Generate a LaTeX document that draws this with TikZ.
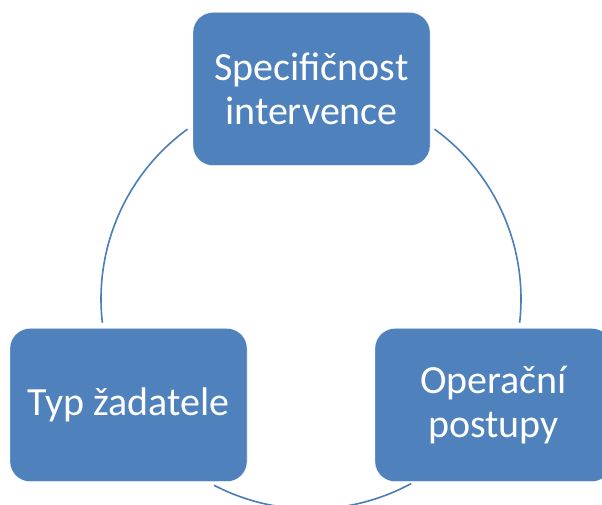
\documentclass[tikz,border=0pt]{standalone}
\usepackage{fontspec}
\setmainfont{Carlito}
\usepackage{xcolor}
\usetikzlibrary{positioning}
\definecolor{boxblue}{RGB}{79,129,189}
\definecolor{arcblue}{RGB}{74,126,187}

\begin{document}
\begin{tikzpicture}[
					%Environment config
					x=1pt,y=1pt,
					%Environment styles
					BoxCfg/.style={
						rectangle,
						rounded corners=20pt,
						fill=boxblue,
						draw=white,
						very thin,
						minimum width=237pt,
						minimum height=153pt,
						inner sep=0pt,
						outer sep=0pt,
						align=center,
						text=white,
						font=\fontsize{40}{44}\selectfont
					},
					ArcCfg/.style={
						draw=arcblue,
						line width=1.6pt
					}
					]
					\useasboundingbox (0,0) rectangle (602,505);
					\path
					(311,206) coordinate (hub)
					(311.5,416) node[BoxCfg](Spec){Specifičnost\\intervence}
					(128.5,100) node[BoxCfg](Typ){Typ žadatele}
					(493.5,100) node[BoxCfg](Oper){Operační\\postupy};
					
					%cycle arcs round the hub
					\draw[ArcCfg]
					([shift={(126:210)}]hub) arc[start angle=126, end angle=186.5, radius=210]
					([shift={(54:210)}]hub) arc[start angle=54, end angle=-6.5, radius=210]
					([shift={(242.5:210)}]hub) arc[start angle=242.5, end angle=298.5, radius=210];
				\end{tikzpicture}
\end{document}
